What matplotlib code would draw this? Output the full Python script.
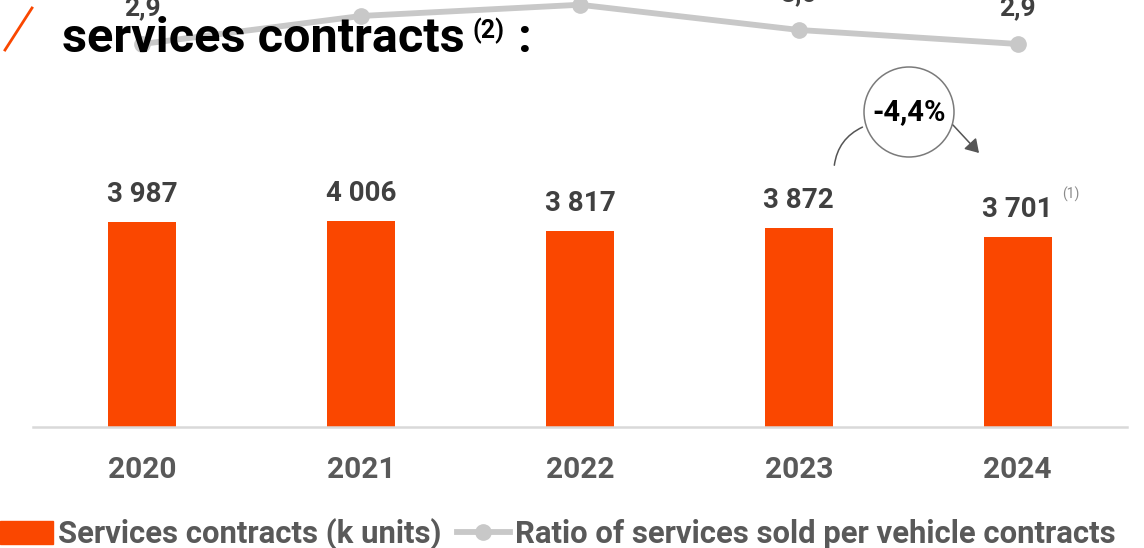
import numpy as np
import matplotlib.pyplot as plt
from matplotlib.patches import Circle, FancyArrowPatch
from matplotlib.lines import Line2D

plt.rcParams['font.family'] = ['Roboto', 'DejaVu Sans']

years = ["2020", "2021", "2022", "2023", "2024"]
contracts = [3987, 4006, 3817, 3872, 3701]
ratio = [2.9, 3.1, 3.18, 3.0, 2.9]

ORANGE = "#FA4700"
LINE_GREY = "#C8C8C8"

fig = plt.figure(figsize=(11.44, 5.48), dpi=100)
ax = fig.add_axes([33 / 1144, 121 / 548, 1094 / 1144, 427 / 548])

x = np.arange(len(years))
ax.bar(x, contracts, width=0.31, color=ORANGE, zorder=2)
ax.set_xlim(-0.5, 4.5)
ax.set_ylim(0, 8304)

for xi, v in zip(x, contracts):
    s = f"{v:,}".replace(",", " ")
    ax.annotate(s, (xi, v), xytext=(0, 10), textcoords="offset points",
                ha="center", va="bottom", fontsize=20, fontweight="bold",
                color="#404040")

# footnote on last bar
ax.annotate("(1)", (x[-1], contracts[-1]), xytext=(38, 25),
            textcoords="offset points", ha="center", va="bottom",
            fontsize=10, color="#8a8a8a")

ax.set_xticks(x)
ax.set_xticklabels(years, fontsize=21.5, fontweight="bold", color="#595959")
ax.tick_params(axis="x", length=0, pad=21)
ax.set_yticks([])
for sp in ["top", "left", "right"]:
    ax.spines[sp].set_visible(False)
ax.spines["bottom"].set_color("#D9D9D9")
ax.spines["bottom"].set_linewidth(1.8)

# ratio line on secondary axis
ax2 = ax.twinx()
ax2.set_ylim(0.164, 3.214)
ax2.axis("off")
ax2.plot(x, ratio, color=LINE_GREY, lw=4.2, marker="o", ms=11, zorder=3)
for xi, r in zip(x, ratio):
    ax2.annotate(f"{r:.1f}".replace(".", ","), (xi, r), xytext=(0, 17),
                 textcoords="offset points", ha="center", va="bottom",
                 fontsize=19, fontweight="bold", color="#404040",
                 annotation_clip=False)

# title
fig.add_artist(Line2D([5 / 1144, 32 / 1144], [1 - 50 / 548, 1 - 8 / 548],
                      color=ORANGE, lw=2))
fig.text(62 / 1144, 1 - 52 / 548, "services contracts", fontsize=35,
         fontweight="bold", color="black", zorder=5)
fig.text(472 / 1144, 1 - 38 / 548, "(2)", fontsize=18, fontweight="bold",
         color="black", zorder=5)
fig.text(518 / 1144, 1 - 52 / 548, ":", fontsize=35, fontweight="bold",
         color="black", zorder=5)

# change bubble
cx, cy, rad = 909, 112, 45
circ = Circle((cx / 100, (548 - cy) / 100), rad / 100,
              transform=fig.dpi_scale_trans, fill=False, ec="#7a7a7a", lw=1.1)
fig.add_artist(circ)
fig.text(cx / 1144, 1 - cy / 548, "-4,4%", ha="center", va="center",
         fontsize=21, fontweight="bold", color="black")
arc = FancyArrowPatch((834 / 1144, 1 - 168 / 548), (865 / 1144, 1 - 126 / 548),
                      transform=fig.transFigure, connectionstyle="arc3,rad=-0.3",
                      arrowstyle="-", color="#555555", lw=1.1)
fig.add_artist(arc)
arr = FancyArrowPatch((953 / 1144, 1 - 125 / 548), (979 / 1144, 1 - 153 / 548),
                      transform=fig.transFigure,
                      arrowstyle="-|>,head_length=8,head_width=5",
                      color="#555555", lw=1.1, shrinkA=0, shrinkB=0)
fig.add_artist(arr)

# legend
h1 = plt.Rectangle((0, 0), 1, 1, color=ORANGE)
h2 = Line2D([], [], color=LINE_GREY, lw=4.2, marker="o", ms=11)
leg = fig.legend([h1, h2], ["Services contracts (k units)",
                            "Ratio of services sold per vehicle contracts"],
                 loc="center left", bbox_to_anchor=(0, 1 - 534 / 548), ncol=2,
                 frameon=False, handlelength=1.7, handleheight=0.76,
                 handletextpad=0.16, columnspacing=0.5, borderaxespad=0,
                 borderpad=0, prop={"size": 22.4, "weight": "bold"})
for t in leg.get_texts():
    t.set_color("#595959")

fig.savefig("out.png", dpi=100)
